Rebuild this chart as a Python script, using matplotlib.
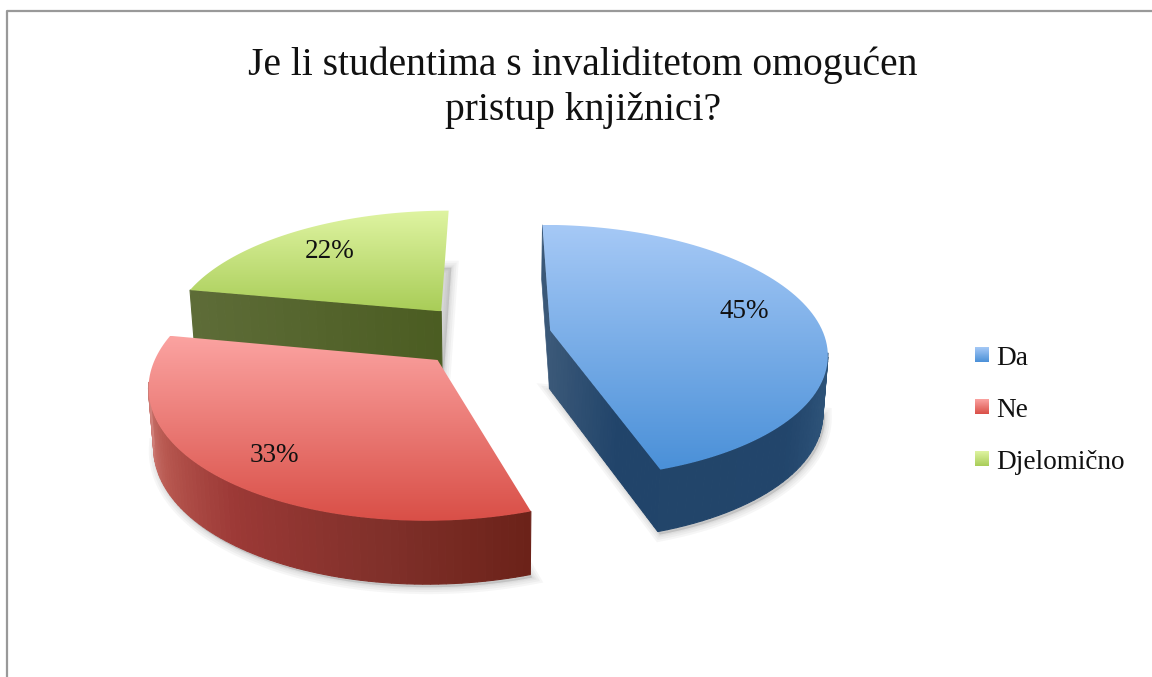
#!/usr/bin/python3
import matplotlib
matplotlib.use("Agg")
import matplotlib.pyplot as plt
import numpy as np
from matplotlib.colors import LinearSegmentedColormap
from matplotlib.patches import Polygon

title = "Je li studentima s invaliditetom omogućen\npristup knjižnici?"
labels = ["Da", "Ne", "Djelomično"]
values = [45, 33, 22]

# pie layout, picture pixels
vx, vy = 495, 333
rx, ry = 273, 124
persp = 0.166
depth = 58
explode = [(0.203, 0.02), (-0.203, -0.21), (-0.203, 0.18)]
label_pos = [(744, 311), (274, 455), (330, 252)]

top_cols = [("#A6C9F6", "#4A90D8"), ("#FBA3A1", "#D94F47"), ("#DFF4A2", "#A9CD58")]
rim_cols = [[(0, "#2F5478"), (0.25, "#2B5076"), (0.5, "#22456B"), (1, "#22456A")],
            [(0, "#6C2219"), (0.25, "#80302A"), (0.55, "#9C3936"), (0.8, "#B85850"), (1, "#D0807A")],
            [(0, "#5E6C38"), (1, "#4F6024")]]
radial_cols = [("#3A5878", "#21446A"), ("#6C2219", "#6C2219"), ("#5E6C38", "#4B5D22")]


def project(X, Z, low=False):
    s = 1.0 / (1.0 + persp * Z)
    x = vx + rx * X * s
    y = vy - ry * Z * s
    if low:
        x = vx + (x - vx) * 0.985
        y = y + depth * s ** 0.4
    return np.column_stack([x, y])


def gradient_fill(ax, poly, c1, c2):
    cmap = LinearSegmentedColormap.from_list("g", [c1, c2])
    x0, y0 = poly.min(axis=0)
    x1, y1 = poly.max(axis=0)
    im = ax.imshow(np.linspace(0, 1, 256).reshape(-1, 1), cmap=cmap, aspect="auto",
                   extent=[x0, x1, y1, y0], zorder=3, interpolation="bilinear")
    patch = Polygon(poly, closed=True, transform=ax.transData, fc="none", ec="none")
    ax.add_patch(patch)
    im.set_clip_path(patch)
    return im


fig = plt.figure(figsize=(11.52, 6.77), dpi=100)
ax = fig.add_axes([0, 0, 1, 1])
font = ["Liberation Serif", "DejaVu Serif"]

fracs = np.array(values) / sum(values)
ends = np.cumsum(fracs) * 2 * np.pi
starts = ends - fracs * 2 * np.pi

# the bands are drawn in this order so the red slice sits over the green one
for i in [2, 0, 1]:
    a0, a1 = starts[i], ends[i]
    ox, oz = explode[i]
    z = 3 + [2, 0, 1].index(i) * 2
    t = np.linspace(a0, a1, 90)
    rimX, rimZ = ox + np.sin(t), oz + np.cos(t)
    top = project(rimX, rimZ)
    low = project(rimX, rimZ, True)
    apex_t = project(np.array([ox]), np.array([oz]))
    apex_l = project(np.array([ox]), np.array([oz]), True)

    top_poly = np.vstack([apex_t, top])
    low_poly = np.vstack([apex_l, low])

    # rim, only where it faces the viewer
    cm = LinearSegmentedColormap.from_list("rim", rim_cols[i])
    front = np.where(np.cos(t) < -0.15)[0]

    # soft shadow under the slice
    shadow = low_poly if i == 2 else np.vstack([apex_l, low[front]])
    for w in [10, 7, 4, 2]:
        ax.add_patch(Polygon(shadow + [2, 3], closed=True, fc="#555555", ec="#555555",
                             lw=w, alpha=0.05, zorder=z - 0.5))

    # radial faces
    c_a, c_b = radial_cols[i]
    if i == 0:
        ax.add_patch(Polygon(np.vstack([top[0], apex_t, apex_l, low[0]]), closed=True,
                             fc=c_a, ec=c_a, lw=0.5, zorder=z))
        cm_r = LinearSegmentedColormap.from_list("r", [c_a, c_b])
        n = 30
        for k in range(n):
            p0 = apex_t[0] + (top[-1] - apex_t[0]) * k / n
            p1 = apex_t[0] + (top[-1] - apex_t[0]) * (k + 1) / n
            q0 = apex_l[0] + (low[-1] - apex_l[0]) * k / n
            q1 = apex_l[0] + (low[-1] - apex_l[0]) * (k + 1) / n
            col = cm_r(min(1.0, k / (n * 0.6)))
            ax.add_patch(Polygon([p0, p1, q1, q0], closed=True, fc=col, ec=col, lw=0.8, zorder=z))
    elif i == 2:
        cm_r = LinearSegmentedColormap.from_list("r", [c_b, c_a])
        n = 30
        for k in range(n):
            p0 = apex_t[0] + (top[0] - apex_t[0]) * k / n
            p1 = apex_t[0] + (top[0] - apex_t[0]) * (k + 1) / n
            q0 = apex_l[0] + (low[0] - apex_l[0]) * k / n
            q1 = apex_l[0] + (low[0] - apex_l[0]) * (k + 1) / n
            col = cm_r(k / n)
            ax.add_patch(Polygon([p0, p1, q1, q0], closed=True, fc=col, ec=col, lw=0.8, zorder=z))

    if i != 2:
        for k, j in enumerate(front[:-1]):
            col = cm(k / max(1, len(front) - 2))
            ax.add_patch(Polygon([top[j], top[j + 1], low[j + 1], low[j]], closed=True,
                                 fc=col, ec=col, lw=0.8, zorder=z))

    im = gradient_fill(ax, top_poly, *top_cols[i])
    im.set_zorder(z + 1)

    tx, ty = label_pos[i]
    ax.text(tx, ty, "%d%%" % values[i], ha="center", va="center", fontsize=19.5,
            family=font, color="#111111", zorder=20)

# legend
for i, name in enumerate(labels):
    y = 354.5 + i * 52
    sq = np.array([[975, y - 7.5], [989, y - 7.5], [989, y + 7.5], [975, y + 7.5]])
    gradient_fill(ax, sq, *top_cols[i])
    ax.text(996, y + 4, name, ha="left", va="center", fontsize=19.6, family=font, color="#111111")

ax.text(583, 88, title, ha="center", va="center", fontsize=28.5, family=font,
        color="#111111", linespacing=1.3)

# grey frame of the pasted chart
ax.plot([7, 7, 1152], [677, 10.5, 10.5], color="#999999", lw=1.6, zorder=30)

ax.set_xlim(0, 1152)
ax.set_ylim(677, 0)
ax.axis("off")
fig.savefig("out.png", dpi=100, facecolor="white")
